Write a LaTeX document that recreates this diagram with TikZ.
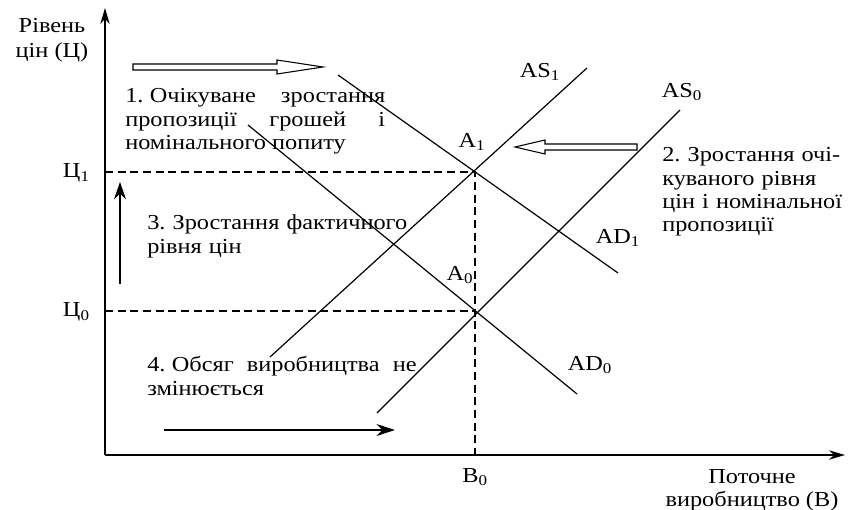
\documentclass[tikz,border=0pt]{standalone}
\usepackage{fontspec}
\setmainfont{Liberation Serif}[FakeStretch=1.14]
\usetikzlibrary{arrows.meta}

\tikzset{
    curve/.style={line width=0.9pt},
    guide/.style={dash pattern=on 6pt off 3.5pt, line width=0.8pt},
    hollow/.style={draw, line width=0.8pt, fill=white},
    txt/.style={inner sep=0pt, font=\fontsize{16}{17.5}\selectfont},
}

\begin{document}
\frenchspacing
\begin{tikzpicture}[x=0.75pt, y=0.75pt]
    \useasboundingbox (-105,-55) rectangle (744,455);

    % Axes
    \coordinate (O) at (0,0);
    \coordinate (ytop) at (0,447);
    \coordinate (xend) at (740,0);
    \draw[line width=1.1pt, -{Stealth[length=12pt,width=7pt]}] (O) -- (ytop);
    \draw[line width=1.1pt, -{Stealth[length=12pt,width=7pt]}] (O) -- (xend);

    % Equilibrium points
    \coordinate (A1) at (370,283);
    \coordinate (A0) at (370,144);

    % Dashed guides
    \draw[guide] (O |- A1) -- (A1) -- (A1 |- O);
    \draw[guide] (O |- A0) -- (A0);

    % Supply and demand curves
    \draw[curve] (165,98) -- (482,387);
    \draw[curve] (272,42) -- (575,345);
    \draw[curve] (233,380) -- (513,182);
    \draw[curve] (143,330) -- (472,61);

    % Hollow shift arrows
    \draw[hollow] (28,385) -- (172,385) -- (172,381) -- (218,388)
        -- (172,395) -- (172,391) -- (28,391) -- cycle;
    \draw[hollow] (532,305) -- (440,305) -- (440,301) -- (410,308)
        -- (440,315) -- (440,311) -- (532,311) -- cycle;

    % Plain arrows
    \coordinate (up0) at (15,171);
    \coordinate (up1) at (15,273);
    \coordinate (rt0) at (59,25);
    \coordinate (rt1) at (290,25);
    \draw[line width=1pt, -{Stealth[length=13pt,width=9pt]}] (up0) -- (up1);
    \draw[line width=1pt, -{Stealth[length=14pt,width=9pt]}] (rt0) -- (rt1);

    % Axis labels
    \node[txt, align=center, font=\fontsize{16}{18.75}\selectfont] (ylab) at (-53,415) {Рівень\\цін (Ц)};
    \node[txt, align=center] (xlab) at (647,-35) {Поточне\\виробництво (В)};
    \node[txt, anchor=east] (p1) at (-15,282) {Ц\textsubscript{1}};
    \node[txt, anchor=east] (p0) at (-15,143) {Ц\textsubscript{0}};
    \node[txt] (b0) at (370,-22) {В\textsubscript{0}};

    % Curve labels
    \node[txt] (as1) at (435,383) {AS\textsubscript{1}};
    \node[txt] (as0) at (577,363) {AS\textsubscript{0}};
    \node[txt] (ad1) at (513,217) {AD\textsubscript{1}};
    \node[txt] (ad0) at (485,90) {AD\textsubscript{0}};
    \node[txt] (a1) at (367,313) {А\textsubscript{1}};
    \node[txt] (a0) at (355,180) {А\textsubscript{0}};

    % Notes
    \node[txt, anchor=base west, text width=195pt, align=justify] (n1) at (20,352)
        {1.\hspace{0.3em}Очікуване зростання\linebreak пропозиції грошей і\linebreak номінального попиту};
    \node[txt, anchor=base west, text width=150pt, align=left] (n2) at (557,293)
        {2. Зростання очі-\\куваного рівня\\цін і номінальної\\пропозиції};
    \node[txt, anchor=base west, text width=220pt, align=left] (n3) at (42,225)
        {3. Зростання фактичного\\рівня цін};
    \node[txt, anchor=base west, text width=202pt, align=justify] (n4) at (42,83)
        {4.\hspace{0.3em}Обсяг виробництва не\linebreak змінюється};
\end{tikzpicture}
\end{document}
